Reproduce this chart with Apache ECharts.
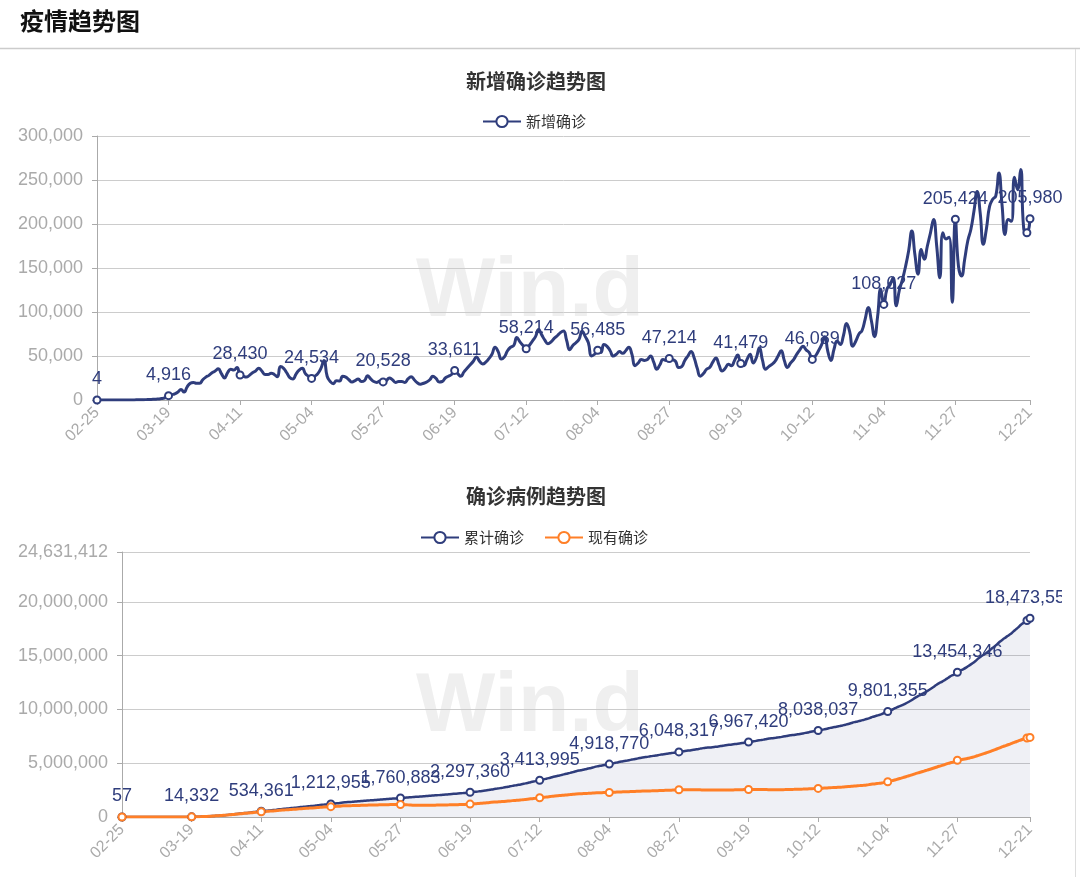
<!DOCTYPE html>
<html><head><meta charset="utf-8">
<script src="https://cdn.jsdelivr.net/npm/echarts@6/dist/echarts.min.js"></script>
<style>html,body{margin:0;padding:0;background:#fff}#c{width:1080px;height:877px}</style>
</head><body><div id="c"></div>
<script>
const dates = [
'02-25','02-26','02-27','02-28','02-29',
'03-01','03-02','03-03','03-04','03-05','03-06','03-07','03-08','03-09','03-10','03-11','03-12','03-13','03-14','03-15','03-16','03-17','03-18','03-19','03-20','03-21','03-22','03-23','03-24','03-25','03-26','03-27','03-28','03-29','03-30','03-31',
'04-01','04-02','04-03','04-04','04-05','04-06','04-07','04-08','04-09','04-10','04-11','04-12','04-13','04-14','04-15','04-16','04-17','04-18','04-19','04-20','04-21','04-22','04-23','04-24','04-25','04-26','04-27','04-28','04-29','04-30',
'05-01','05-02','05-03','05-04','05-05','05-06','05-07','05-08','05-09','05-10','05-11','05-12','05-13','05-14','05-15','05-16','05-17','05-18','05-19','05-20','05-21','05-22','05-23','05-24','05-25','05-26','05-27','05-28','05-29','05-30','05-31',
'06-01','06-02','06-03','06-04','06-05','06-06','06-07','06-08','06-09','06-10','06-11','06-12','06-13','06-14','06-15','06-16','06-17','06-18','06-19','06-20','06-21','06-22','06-23','06-24','06-25','06-26','06-27','06-28','06-29','06-30',
'07-01','07-02','07-03','07-04','07-05','07-06','07-07','07-08','07-09','07-10','07-11','07-12','07-13','07-14','07-15','07-16','07-17','07-18','07-19','07-20','07-21','07-22','07-23','07-24','07-25','07-26','07-27','07-28','07-29','07-30','07-31',
'08-01','08-02','08-03','08-04','08-05','08-06','08-07','08-08','08-09','08-10','08-11','08-12','08-13','08-14','08-15','08-16','08-17','08-18','08-19','08-20','08-21','08-22','08-23','08-24','08-25','08-26','08-27','08-28','08-29','08-30','08-31',
'09-01','09-02','09-03','09-04','09-05','09-06','09-07','09-08','09-09','09-10','09-11','09-12','09-13','09-14','09-15','09-16','09-17','09-18','09-19','09-20','09-21','09-22','09-23','09-24','09-25','09-26','09-27','09-28','09-29','09-30',
'10-01','10-02','10-03','10-04','10-05','10-06','10-07','10-08','10-09','10-10','10-11','10-12','10-13','10-14','10-15','10-16','10-17','10-18','10-19','10-20','10-21','10-22','10-23','10-24','10-25','10-26','10-27','10-28','10-29','10-30','10-31',
'11-01','11-02','11-03','11-04','11-05','11-06','11-07','11-08','11-09','11-10','11-11','11-12','11-13','11-14','11-15','11-16','11-17','11-18','11-19','11-20','11-21','11-22','11-23','11-24','11-25','11-26','11-27','11-28','11-29','11-30',
'12-01','12-02','12-03','12-04','12-05','12-06','12-07','12-08','12-09','12-10','12-11','12-12','12-13','12-14','12-15','12-16','12-17','12-18','12-19','12-20','12-21'
];

const newCases = [
4,3,1,6,7,
9,20,25,30,70,60,120,120,190,290,350,480,620,730,950,1200,1800,2600,4916,6000,7000,9000,12000,9000,15000,19000,20000,19000,19000,23000,26000,
28000,31000,33000,35500,30000,25000,31000,35000,34000,37000,28430,27000,26000,28000,31000,33000,36000,33000,29000,29000,30500,29000,26500,38000,36000,31000,25500,24000,29500,34000,
36000,30000,27000,24534,27000,30000,36000,45000,27000,21000,18500,22000,21500,27000,26000,23000,20500,22000,24000,21000,22000,27500,24000,21000,20000,21500,20528,22000,25000,23000,20000,
21000,21000,20000,24000,26500,23000,19500,18000,19000,20500,23000,27000,24500,20500,21000,25000,27000,29000,33611,30000,27000,32000,36000,40000,44000,49000,44000,41000,43000,47000,
52000,60000,55000,46500,49000,56000,60000,62000,71000,66000,62000,58214,62000,67000,72000,80000,74000,68000,64000,66000,70000,73000,76500,78500,68000,57000,62000,65000,69000,78000,72000,
65000,50000,52000,56485,54000,63000,61000,56000,50000,52000,55000,53000,56000,60000,52000,39000,42000,46000,45000,46000,50000,43000,35000,40000,46000,45000,47214,46000,44000,37000,38000,
45000,50000,55000,48000,36000,27000,30000,35000,37000,43000,47800,40000,33000,36000,40500,39000,45000,51000,41479,39000,46000,52000,42000,48000,59500,45000,35000,38000,40500,44000,
50000,56000,45000,37000,42000,46000,52000,57000,61000,57000,54000,46089,50000,56000,63000,72000,55000,45000,58000,67000,63000,73000,87000,78000,61000,67000,75000,79000,92000,105000,90000,
72000,95000,126000,108627,126000,131000,139000,107000,125000,137000,152000,170000,192000,165000,143000,171000,160000,175000,190000,205000,175000,139000,190000,183000,185000,111000,205424,152000,141000,160000,
181000,194000,215000,237000,212000,177000,195000,220000,228000,232000,258000,222000,188000,205000,203000,253000,239000,262000,194000,190000,205980
];

const cumulative = [
57,60,61,67,74,83,103,128,158,228,288,408,528,718,1008,1358,1838,2458,3188,4138,5338,7138,9416,14332,
20300,27300,36300,48300,57300,72300,91300,111000,130000,149000,172000,198000,225000,255000,287000,321000,350000,374000,404000,438000,471000,506000,534361,
561000,587000,614000,644000,676000,711000,743000,771000,799000,829000,857000,883000,920000,955000,985000,1010000,1033000,1062000,1095000,1130000,1159000,1186000,1212955,
1239000,1268000,1303000,1347000,1373000,1393000,1411000,1432000,1453000,1479000,1504000,1526000,1546000,1567000,1590000,1610000,1631000,1657000,1680000,1700000,1719000,1740000,1760883,
1783000,1808000,1831000,1851000,1872000,1893000,1913000,1937000,1963000,1986000,2006000,2024000,2043000,2064000,2087000,2114000,2139000,2160000,2181000,2206000,2233000,2263000,2297360,
2327000,2354000,2386000,2422000,2462000,2506000,2555000,2599000,2640000,2683000,2729000,2781000,2840000,2894000,2940000,2988000,3043000,3102000,3163000,3233000,3298000,3356000,3413995,
3476000,3542000,3613000,3691000,3764000,3831000,3894000,3959000,4028000,4100000,4175000,4252000,4319000,4375000,4436000,4500000,4560000,4635000,4703000,4764000,4812000,4862000,4918770,
4973000,5036000,5097000,5153000,5203000,5255000,5310000,5363000,5419000,5479000,5531000,5570000,5612000,5658000,5703000,5749000,5799000,5842000,5877000,5916000,5960000,6002000,6048317,
6093000,6136000,6172000,6209000,6253000,6302000,6355000,6402000,6437000,6463000,6492000,6526000,6562000,6604000,6650000,6689000,6721000,6756000,6795000,6833000,6877000,6926000,6967420,
7006000,7052000,7103000,7145000,7192000,7250000,7294000,7328000,7365000,7405000,7448000,7497000,7552000,7596000,7632000,7673000,7718000,7769000,7825000,7885000,7941000,7992000,8038037,
8089000,8146000,8210000,8283000,8339000,8385000,8444000,8512000,8576000,8650000,8738000,8817000,8879000,8947000,9023000,9103000,9196000,9302000,9393000,9466000,9562000,9690000,9801355,
9927000,10058000,10196000,10302000,10426000,10562000,10713000,10881000,11071000,11234000,11375000,11544000,11702000,11875000,12063000,12266000,12439000,12576000,12764000,12945000,13128000,13249000,13454346,
13608000,13750000,13912000,14095000,14291000,14508000,14747000,14961000,15140000,15337000,15559000,15789000,16023000,16283000,16507000,16697000,16904000,17109000,17364000,17605000,17869000,18072000,18268000,18473559
];

const active = [
50,50,52,55,60,65,80,100,120,180,230,340,440,610,880,1190,1650,2240,2950,3870,5020,6790,9030,13000,
19500,26200,34800,46300,54900,69200,87300,106000,124000,142000,163000,187000,212000,240000,270000,301000,327000,348000,375000,405000,434000,465000,485000,
505000,525000,546000,568000,592000,618000,642000,662000,682000,703000,722000,740000,767000,792000,813000,830000,846000,866000,889000,913000,932000,948000,960000,
975000,990000,1010000,1035000,1045000,1052000,1058000,1066000,1073000,1084000,1094000,1102000,1108000,1115000,1123000,1128000,1134000,1143000,1150000,1153000,1155000,1158000,1160000,
1150000,1135000,1118000,1100000,1090000,1085000,1083000,1085000,1090000,1096000,1100000,1104000,1108000,1113000,1120000,1128000,1136000,1142000,1148000,1156000,1166000,1180000,1200000,
1220000,1240000,1262000,1285000,1310000,1335000,1362000,1385000,1404000,1423000,1444000,1468000,1497000,1522000,1543000,1565000,1592000,1620000,1650000,1686000,1718000,1750000,1790000,
1820000,1850000,1882000,1918000,1950000,1978000,2003000,2028000,2055000,2083000,2112000,2140000,2160000,2172000,2186000,2200000,2216000,2235000,2250000,2262000,2266000,2270000,2280000,
2292000,2306000,2320000,2332000,2342000,2352000,2364000,2375000,2388000,2402000,2412000,2416000,2422000,2430000,2440000,2450000,2462000,2472000,2480000,2490000,2502000,2515000,2530000,
2538000,2540000,2536000,2530000,2526000,2524000,2522000,2518000,2512000,2506000,2502000,2500000,2500000,2503000,2508000,2512000,2515000,2520000,2526000,2532000,2540000,2550000,2560000,
2562000,2560000,2556000,2550000,2546000,2545000,2542000,2538000,2535000,2536000,2540000,2546000,2555000,2562000,2568000,2575000,2583000,2592000,2604000,2617000,2630000,2645000,2660000,
2675000,2690000,2705000,2722000,2738000,2752000,2768000,2785000,2805000,2828000,2855000,2880000,2900000,2925000,2952000,2982000,3018000,3058000,3095000,3125000,3165000,3222000,3280000,
3350000,3420000,3500000,3580000,3655000,3740000,3830000,3920000,4015000,4100000,4180000,4270000,4355000,4440000,4530000,4625000,4715000,4795000,4890000,4985000,5060000,5150000,5270000,
5310000,5360000,5420000,5490000,5560000,5640000,5730000,5820000,5910000,6000000,6100000,6210000,6320000,6430000,6540000,6640000,6740000,6840000,6950000,7060000,7160000,7260000,7340000,7400000
];

const pageTitle = '疫情趋势图';
const topTitle = '新增确诊趋势图';
const bottomTitle = '确诊病例趋势图';
const nameNew = '新增确诊';
const nameCum = '累计确诊';
const nameActive = '现有确诊';
const topYMax = 300000, topYStep = 50000;
const botYMax = 24631412, botYStep = 5000000;
const watermark = 'Win.d';

const NAVY = '#2f3d7c';
const ORANGE = '#ff7f27';
const AXIS = '#aaaaaa';
const F = "'Liberation Sans', Arial, 'Noto Sans CJK SC', sans-serif";
const FC = "'Noto Sans CJK SC', 'Liberation Sans', sans-serif";

const last = dates.length - 1;
const isSym = i => (i % 23 === 0) || i === last;
const isLab = i => (i % 23 === 0 && i !== last - 1) || i === last;
const fmt = v => echarts.format.addCommas(v);

function xAxisCfg(g) {
  return {
    type: 'category', gridIndex: g, data: dates, boundaryGap: false,
    axisLine: { show: true, lineStyle: { color: AXIS, width: 1 } },
    axisTick: { show: true, length: 5, interval: (i) => isLab(i), lineStyle: { color: AXIS } },
    axisLabel: { show: true, interval: (i) => isLab(i), rotate: 45, color: AXIS, fontSize: 16, fontFamily: F, margin: 10 },
    splitLine: { show: false }
  };
}
function yAxisCfg(g, max, step) {
  return {
    type: 'value', gridIndex: g, min: 0, max: max, interval: step,
    axisLine: { show: true, lineStyle: { color: AXIS, width: 1 } },
    axisTick: { show: true, length: 5, lineStyle: { color: AXIS } },
    axisLabel: { show: true, color: AXIS, fontSize: 18, fontFamily: F, margin: 14, formatter: v => fmt(v) },
    splitLine: { show: true, lineStyle: { color: '#cccccc', width: 1 } }
  };
}
function labelCfg(color) {
  return { show: true, position: 'top', distance: 7, color: color, fontSize: 18, fontFamily: F,
           formatter: p => isLab(p.dataIndex) ? fmt(p.value) : '' };
}

const chart = echarts.init(document.getElementById('c'), null, { renderer: 'canvas' });
chart.setOption({
  animation: false,
  backgroundColor: '#ffffff',
  title: [
    { text: pageTitle, left: 20, top: 9, padding: 0, textStyle: { fontSize: 24, fontWeight: 'bold', color: '#111', fontFamily: FC } },
    { text: topTitle, left: 466, top: 71, padding: 0, textStyle: { fontSize: 20, fontWeight: 'bold', color: '#333', fontFamily: FC } },
    { text: bottomTitle, left: 466, top: 486, padding: 0, textStyle: { fontSize: 20, fontWeight: 'bold', color: '#333', fontFamily: FC } }
  ],
  legend: [
    { data: [nameNew], left: 482, top: 114, padding: 0, itemWidth: 38, itemHeight: 14, itemGap: 20,
      textStyle: { fontSize: 15, color: '#333', fontFamily: FC } },
    { data: [nameCum, nameActive], left: 420, top: 530, padding: 0, itemWidth: 38, itemHeight: 14, itemGap: 20,
      textStyle: { fontSize: 15, color: '#333', fontFamily: FC } }
  ],
  graphic: [
    { type: 'rect', z: 100, shape: { x: 1062, y: 49, width: 30, height: 830 }, style: { fill: '#ffffff' } },
    { type: 'line', z: 101, shape: { x1: 0, y1: 48.5, x2: 1080, y2: 48.5 }, style: { stroke: '#cccccc', lineWidth: 1.5 } },
    { type: 'line', z: 101, shape: { x1: 1075.5, y1: 49, x2: 1075.5, y2: 877 }, style: { stroke: '#dddddd', lineWidth: 1 } },
    { type: 'text', z: -1, left: 416, top: 251, style: { text: watermark, fill: '#efefef', fontSize: 84, fontWeight: 'bold', fontFamily: F } },
    { type: 'text', z: -1, left: 416, top: 666, style: { text: watermark, fill: '#efefef', fontSize: 84, fontWeight: 'bold', fontFamily: F } }
  ],
  grid: [
    { left: 97, right: 50, top: 136, height: 264, outerBoundsMode: 'none', containLabel: false },
    { left: 122, right: 50, top: 552, height: 265, outerBoundsMode: 'none', containLabel: false }
  ],
  xAxis: [xAxisCfg(0), xAxisCfg(1)],
  yAxis: [yAxisCfg(0, topYMax, topYStep), yAxisCfg(1, botYMax, botYStep)],
  series: [
    { type: 'line', name: nameNew, xAxisIndex: 0, yAxisIndex: 0, data: newCases, smooth: true,
      showSymbol: true, showAllSymbol: true, symbol: 'emptyCircle',
      symbolSize: (v, p) => isSym(p.dataIndex) ? 7 : 0,
      lineStyle: { color: NAVY, width: 3 }, itemStyle: { color: NAVY, borderWidth: 1.5 },
      label: labelCfg(NAVY), emphasis: { disabled: true } },
    { type: 'line', name: nameCum, xAxisIndex: 1, yAxisIndex: 1, data: cumulative, smooth: true,
      showSymbol: true, showAllSymbol: true, symbol: 'emptyCircle',
      symbolSize: (v, p) => isSym(p.dataIndex) ? 7 : 0,
      lineStyle: { color: NAVY, width: 2.5 }, itemStyle: { color: NAVY, borderWidth: 1.5 },
      areaStyle: { color: 'rgba(35,45,110,0.1)' },
      label: labelCfg(NAVY), emphasis: { disabled: true } },
    { type: 'line', name: nameActive, xAxisIndex: 1, yAxisIndex: 1, data: active, smooth: true,
      showSymbol: true, showAllSymbol: true, symbol: 'emptyCircle',
      symbolSize: (v, p) => isSym(p.dataIndex) ? 7 : 0,
      lineStyle: { color: ORANGE, width: 3 }, itemStyle: { color: ORANGE, borderWidth: 1.5 },
      label: { show: false }, emphasis: { disabled: true } }
  ]
});
</script>
</body></html>
